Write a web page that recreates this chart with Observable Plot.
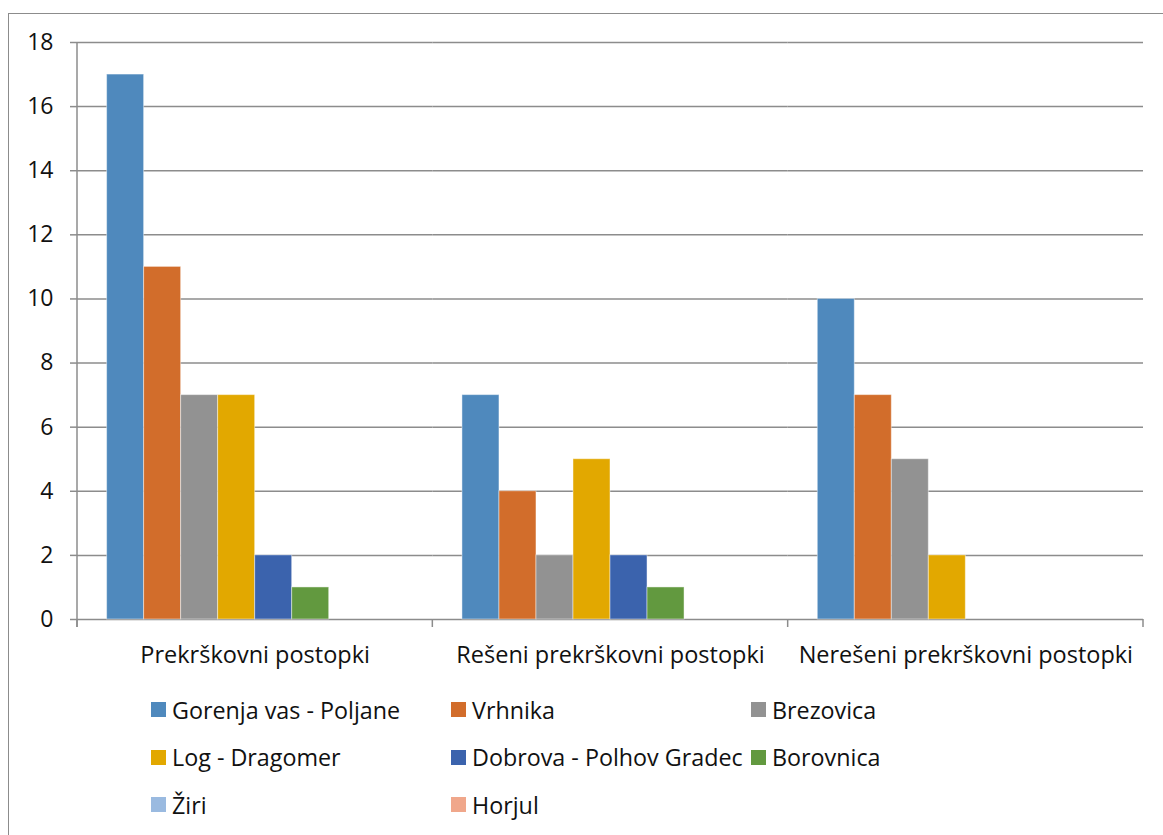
<!DOCTYPE html>
<html>
<head>
<meta charset="utf-8">
<script src="https://cdn.jsdelivr.net/npm/d3@7"></script>
<script src="https://cdn.jsdelivr.net/npm/@observablehq/plot@0.6"></script>
<style>
  html, body { margin: 0; padding: 0; background: #fff; }
  body { width: 1163px; height: 835px; position: relative; overflow: hidden; font-family: "Open Sans", "Noto Sans", sans-serif; }
  #frame { position: absolute; left: 8px; top: 13px; width: 1170px; height: 840px; border: 1px solid #8c8c8c; box-sizing: border-box; }
  #chart { position: absolute; left: 0; top: 0; }
  #legend { position: absolute; left: 151px; top: 686px; display: grid; grid-template-columns: 300px 300px 300px; row-gap: 0; }
  .item { display: flex; align-items: center; height: 47.5px; font-size: 23.3px; color: #111; white-space: nowrap; }
  .sw { width: 15px; height: 15px; margin-right: 6px; flex: none; }
</style>
</head>
<body>
<div id="frame"></div>
<div id="chart"></div>
<div id="legend"></div>
<script>
const groups = ["Prekrškovni postopki", "Rešeni prekrškovni postopki", "Nerešeni prekrškovni postopki"];
const series = ["Gorenja vas - Poljane", "Vrhnika", "Brezovica", "Log - Dragomer", "Dobrova - Polhov Gradec", "Borovnica", "Žiri", "Horjul"];
const colors = ["#4F89BD", "#D26D2B", "#929292", "#E2A800", "#3B63AD", "#62993F", "#9ABAE0", "#F0A78B"];
// values per series, in order of groups
const gorenja = [17, 7, 10];
const vrhnika = [11, 4, 7];
const brezovica = [7, 2, 5];
const logDragomer = [7, 5, 2];
const dobrova = [2, 2, 0];
const borovnica = [1, 1, 0];
const ziri = [0, 0, 0];
const horjul = [0, 0, 0];
const yTicks = [0, 2, 4, 6, 8, 10, 12, 14, 16, 18];

const seriesValues = [gorenja, vrhnika, brezovica, logDragomer, dobrova, borovnica, ziri, horjul];
const data = [];
groups.forEach((g, gi) => series.forEach((s, si) => data.push({group: g, series: s, value: seriesValues[si][gi]})));

const font = "'Open Sans', 'Noto Sans', sans-serif";
const plot = Plot.plot({
  width: 1163,
  height: 680,
  marginLeft: 77,
  marginRight: 20,
  marginTop: 42,
  marginBottom: 61,
  style: {fontFamily: font, fontSize: "23px", color: "#111", background: "transparent", overflow: "visible"},
  fx: {domain: groups, padding: 0, round: false, label: null},
  x: {domain: series, paddingInner: 0, paddingOuter: 0.8, axis: null, round: false},
  y: {domain: [0, 18], axis: null, label: null},
  color: {domain: series, range: colors},
  marks: [
    Plot.gridY(yTicks, {stroke: "#8c8c8c", strokeOpacity: 1, strokeWidth: 1.5}),
    Plot.barY(data, {fx: "group", x: "series", y: "value", fill: "series", stroke: "#ffffff", strokeOpacity: 0.45, strokeWidth: 1}),
    Plot.axisY(yTicks, {tickSize: 7, tickPadding: 17, stroke: "#8c8c8c", strokeWidth: 1.5, fontSize: 23, fill: "#111", label: null}),
    Plot.axisFx({anchor: "bottom", tickSize: 0, tickPadding: 27, fontSize: 23.5, fill: "#111", label: null})
  ]
});
document.getElementById("chart").appendChild(plot);

// axis line and category divider ticks from the plot's own scales
const fx = plot.scale("fx");
const y = plot.scale("y");
const svg = d3.select(plot);
const y0 = y.apply(0), yTop = y.apply(18);
const bounds = groups.map(g => fx.apply(g)).concat([fx.apply(groups[groups.length - 1]) + fx.bandwidth]);
const g = svg.append("g").attr("stroke", "#8c8c8c").attr("stroke-width", 1.5);
g.append("line").attr("x1", bounds[0]).attr("x2", bounds[0]).attr("y1", yTop).attr("y2", y0 + 8);
bounds.forEach(b => g.append("line").attr("x1", b).attr("x2", b).attr("y1", y0).attr("y2", y0 + 8));

// legend
const legend = d3.select("#legend");
series.forEach((s, i) => {
  const it = legend.append("div").attr("class", "item");
  it.append("div").attr("class", "sw").style("background", colors[i]);
  it.append("span").text(s);
});
</script>
</body>
</html>
